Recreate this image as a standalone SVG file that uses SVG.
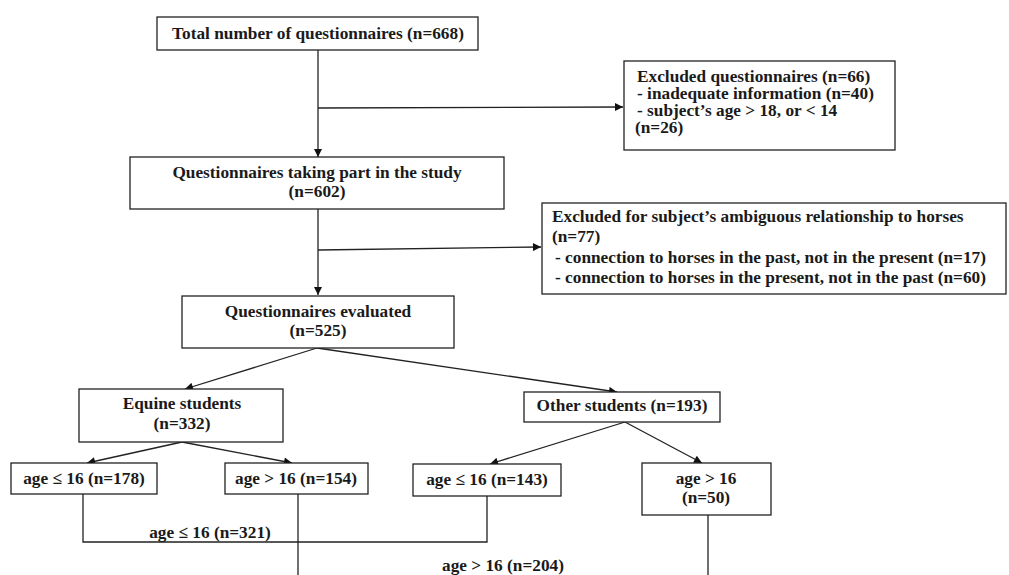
<svg xmlns="http://www.w3.org/2000/svg" width="1009" height="575" viewBox="0 0 1009 575">
<style>
.box{fill:#fff;stroke:#222;stroke-width:1.3}
.t{font-family:"Liberation Serif","Times New Roman",serif;font-weight:bold;font-size:17.3px;fill:#1a1a1a}
.c{text-anchor:middle}
.ln{fill:none;stroke:#222;stroke-width:1.3}
</style>
<defs>
<marker id="ah" viewBox="0 0 10 10" refX="10" refY="5" markerWidth="10" markerHeight="8" markerUnits="userSpaceOnUse" orient="auto">
<path d="M0,0 L10,5 L0,10 z" fill="#111"/>
</marker>
</defs>
<rect width="1009" height="575" fill="#fff"/>
<g id="connectors">
<line class="ln" x1="318" y1="50" x2="318" y2="157" marker-end="url(#ah)"/>
<line class="ln" x1="318" y1="108" x2="623" y2="107" marker-end="url(#ah)"/>
<line class="ln" x1="318" y1="209" x2="318" y2="295" marker-end="url(#ah)"/>
<line class="ln" x1="318" y1="250" x2="541" y2="247" marker-end="url(#ah)"/>
<line class="ln" x1="317" y1="348" x2="185" y2="389" marker-end="url(#ah)"/>
<line class="ln" x1="317" y1="348" x2="617" y2="392" marker-end="url(#ah)"/>
<line class="ln" x1="182" y1="442" x2="87" y2="463" marker-end="url(#ah)"/>
<line class="ln" x1="182" y1="442" x2="292" y2="463" marker-end="url(#ah)"/>
<line class="ln" x1="625" y1="422" x2="490" y2="464" marker-end="url(#ah)"/>
<line class="ln" x1="625" y1="422" x2="702" y2="463" marker-end="url(#ah)"/>
<polyline class="ln" points="83,494 83,542 487,542 487,496"/>
<line class="ln" x1="298" y1="494" x2="298" y2="575"/>
<line class="ln" x1="708" y1="515" x2="708" y2="575"/>
<text class="t c" x="210" y="538">age ≤ 16 (n=321)</text>
<text class="t c" x="503" y="571">age &gt; 16 (n=204)</text>
</g>
<g id="total">
<rect class="box" x="157" y="17" width="321" height="33"/>
<text class="t c" x="318" y="39">Total number of questionnaires (n=668)</text>
</g>
<g id="excluded1">
<rect class="box" x="624" y="61" width="271" height="89"/>
<text class="t" x="637" y="82">Excluded questionnaires (n=66)</text>
<text class="t" x="637" y="99"> - inadequate information (n=40)</text>
<text class="t" x="637" y="116">- subject’s age &gt; 18, or &lt; 14</text>
<text class="t" x="635" y="133">(n=26)</text>
</g>
<g id="taking-part">
<rect class="box" x="130" y="157" width="374" height="52"/>
<text class="t c" x="317" y="178">Questionnaires taking part in the study</text>
<text class="t c" x="317" y="197">(n=602)</text>
</g>
<g id="excluded2">
<rect class="box" x="542" y="203" width="464" height="91"/>
<text class="t" x="552" y="222">Excluded  for subject’s ambiguous relationship  to horses</text>
<text class="t" x="552" y="242">(n=77)</text>
<text class="t" x="555" y="263">- connection to horses in the past, not in the present (n=17)</text>
<text class="t" x="555" y="283">- connection to horses in the present, not in the past (n=60)</text>
</g>
<g id="evaluated">
<rect class="box" x="182" y="296" width="272" height="52"/>
<text class="t c" x="318" y="317">Questionnaires evaluated</text>
<text class="t c" x="318" y="336">(n=525)</text>
</g>
<g id="equine">
<rect class="box" x="79" y="389" width="204" height="53"/>
<text class="t c" x="182" y="409">Equine students</text>
<text class="t c" x="182" y="429">(n=332)</text>
</g>
<g id="other">
<rect class="box" x="524" y="392" width="196" height="30"/>
<text class="t c" x="622" y="411">Other students (n=193)</text>
</g>
<g id="eq-young">
<rect class="box" x="11" y="463" width="146" height="31"/>
<text class="t c" x="84" y="484">age ≤ 16 (n=178)</text>
</g>
<g id="eq-old">
<rect class="box" x="225" y="463" width="143" height="31"/>
<text class="t c" x="296" y="484">age &gt; 16 (n=154)</text>
</g>
<g id="ot-young">
<rect class="box" x="413" y="464" width="148" height="32"/>
<text class="t c" x="487" y="485">age ≤ 16 (n=143)</text>
</g>
<g id="ot-old">
<rect class="box" x="642" y="463" width="129" height="52"/>
<text class="t c" x="706" y="484">age &gt; 16</text>
<text class="t c" x="706" y="503">(n=50)</text>
</g>
</svg>
